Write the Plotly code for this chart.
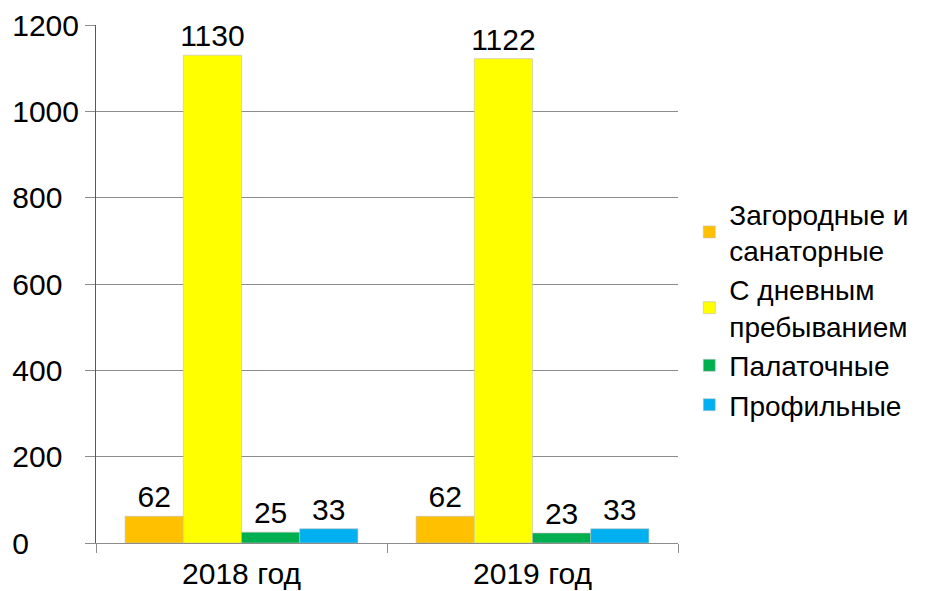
import plotly.graph_objects as go

categories = ["2018 год", "2019 год"]
series_names = ["Загородные и<br>санаторные", "С дневным<br>пребыванием", "Палаточные", "Профильные"]
zagorodnye = [62, 62]
dnevnye = [1130, 1122]
palatochnye = [25, 23]
profilnye = [33, 33]
series_values = [zagorodnye, dnevnye, palatochnye, profilnye]
colors = ["#FFC000", "#FFFF00", "#00B050", "#00B0F0"]
y_tick_vals = [0, 200, 400, 600, 800, 1000, 1200]
y_tick_text = ["0", "200", "400", "600", "800", "1000", "1200"]

FONT = "Liberation Sans, Arial, sans-serif"
FS = 30

fig = go.Figure()
for name, vals, col in zip(series_names, series_values, colors):
    fig.add_trace(go.Bar(
        x=categories, y=vals, name=name,
        marker=dict(color=col, line=dict(color="#bfbfbf", width=0.6)),
        text=[str(v) for v in vals], textposition="outside",
        textfont=dict(family=FONT, size=FS, color="black"),
        constraintext="none", cliponaxis=False,
    ))

# pad shorter labels so they appear left-aligned like the reference
max_len = max(len(t) for t in y_tick_text)
padded = [t + "\u00a0" * (2 * (max_len - len(t))) for t in y_tick_text]

PLOT_W = 932 - 88 - 262
PLOT_H = 583 - 17 - 48

fig.update_layout(
    width=932, height=583,
    margin=dict(l=88, r=262, t=17, b=48, autoexpand=False),
    paper_bgcolor="white", plot_bgcolor="white",
    barmode="group", bargap=0.2, bargroupgap=0,
    font=dict(family=FONT, size=FS, color="black"),
    showlegend=True,
    legend=dict(x=1 + 11.3 / PLOT_W, y=1 - 164 / PLOT_H, xanchor="left", yanchor="top",
                font=dict(family=FONT, size=28, color="black"),
                itemwidth=30, tracegroupgap=0, valign="middle"),
    xaxis=dict(showline=True, linecolor="#8c8c8c", linewidth=1, automargin=False,
               ticks="outside", tickson="boundaries", ticklen=9, tickcolor="#8c8c8c",
               ticklabelstandoff=4,
               tickfont=dict(family=FONT, size=FS, color="black"),
               showgrid=False, zeroline=False),
    yaxis=dict(range=[0, 1200], tickvals=y_tick_vals, ticktext=padded, automargin=False,
               showline=True, linecolor="#595959", linewidth=1,
               ticks="outside", ticklen=10, tickcolor="#8c8c8c",
               tickfont=dict(family=FONT, size=FS, color="black"),
               showgrid=True, gridcolor="#8c8c8c", gridwidth=1, zeroline=False),
    annotations=[dict(text="<b>р</b>", xref="paper", yref="paper",
                      x=(468 - 88) / PLOT_W, y=1 + 18 / PLOT_H, xanchor="center", yanchor="bottom",
                      showarrow=False,
                      font=dict(family="Liberation Serif, Times New Roman, serif", size=30, color="red"))],
)

fig.write_html("out.html")
